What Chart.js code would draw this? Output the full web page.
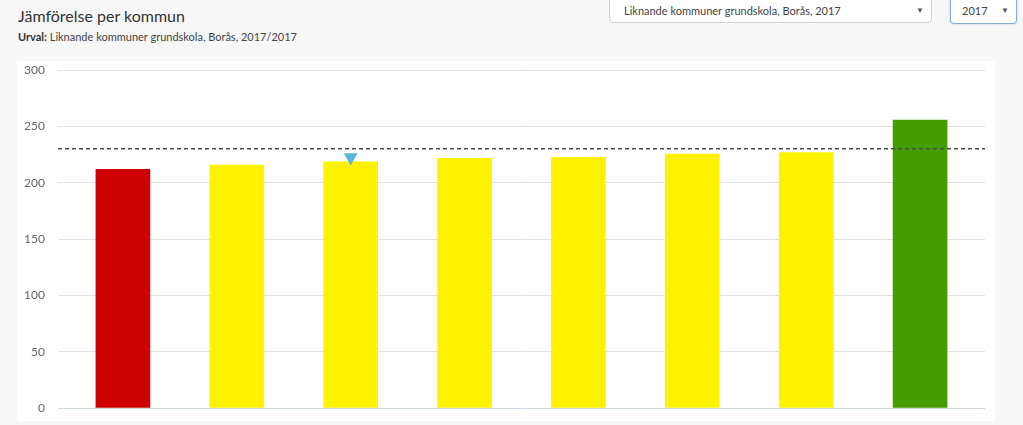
<!DOCTYPE html>
<html lang="sv">
<head>
<meta charset="utf-8">
<title>Jämförelse per kommun</title>
<script src="https://cdn.jsdelivr.net/npm/chart.js@4/dist/chart.umd.min.js"></script>
<style>
  html, body { margin: 0; padding: 0; }
  body {
    width: 1023px; height: 425px; overflow: hidden; position: relative;
    background: #f7f7f7; font-family: Lato, "Open Sans", sans-serif; color: #333;
  }
  #title { position: absolute; left: 18px; top: 6px; font-size: 16px; color: #333; }
  #subtitle { position: absolute; left: 18px; top: 30px; font-size: 11px; color: #444; }
  #subtitle b { color: #333; }
  .select {
    position: absolute; background: #fff; border: 1px solid #d3d3d3; border-radius: 4px;
    font-size: 11px; color: #444; box-sizing: border-box;
  }
  .select .txt { position: absolute; left: 14px; top: 9px; }
  .select .arr { position: absolute; right: 7px; top: 10px; font-size: 8px; color: #555; }
  #sel1 { left: 609px; top: -6px; width: 323px; height: 29px; }
  #sel2 { left: 950px; top: -6px; width: 67px; height: 30px; border-color: #86acd6; box-shadow: 0 0 2px rgba(100,150,210,0.5); }
  #sel2 .txt { left: 11px; }
  #panel { position: absolute; left: 17px; top: 61px; width: 978px; height: 360px; background: #fff; }
</style>
</head>
<body>
<div id="title">Jämförelse per kommun</div>
<div id="subtitle"><b>Urval:</b> Liknande kommuner grundskola, Borås, 2017/2017</div>
<div class="select" id="sel1"><span class="txt">Liknande kommuner grundskola, Borås, 2017</span><span class="arr">▼</span></div>
<div class="select" id="sel2"><span class="txt">2017</span><span class="arr">▼</span></div>
<div id="panel"><canvas id="chart"></canvas></div>

<script>
// kommuner (namnen syns inte i bilden), Borås är den markerade
var categories = ['Kommun 1', 'Kommun 2', 'Borås', 'Kommun 4', 'Kommun 5', 'Kommun 6', 'Kommun 7', 'Kommun 8'];
var values = [211.9, 215.7, 218.4, 221.6, 222.5, 225.4, 226.6, 255.6];
var barColors = ['#cc0000', '#fff200', '#fff200', '#fff200', '#fff200', '#fff200', '#fff200', '#459d00'];
var average = 230;
var markerIndex = 2;
var markerValue = 222.5;
var yTicks = [0, 50, 100, 150, 200, 250, 300];

// x-axeln är linjär så att staplarna hamnar som i originalet
var xMin = -0.57;
var xMax = categories.length - 1 + 0.57;

var barData = values.map(function(v, i) { return { x: i, y: v }; });
var avgData = [{ x: xMin, y: average }, { x: xMax, y: average }];
var markerData = [{ x: markerIndex, y: markerValue }];

var ctx = document.getElementById('chart').getContext('2d');
new Chart(ctx, {
  type: 'bar',
  data: {
    datasets: [
      {
        type: 'bar',
        label: 'Värde',
        data: barData,
        backgroundColor: barColors,
        borderWidth: 0,
        barThickness: 54,
        order: 3
      },
      {
        type: 'line',
        label: 'Medel',
        data: avgData,
        borderColor: '#4a4a4a',
        borderWidth: 1.5,
        borderDash: [4, 3],
        pointRadius: 0,
        fill: false,
        order: 1
      },
      {
        type: 'scatter',
        label: 'Vald kommun',
        data: markerData,
        pointStyle: 'triangle',
        rotation: 180,
        pointRadius: 8,
        backgroundColor: '#5ab4dc',
        borderWidth: 0,
        order: 0
      }
    ]
  },
  options: {
    responsive: true,
    maintainAspectRatio: false,
    animation: false,
    layout: { padding: { top: 9, right: 10, bottom: 13, left: 0 } },
    plugins: {
      legend: { display: false },
      tooltip: {
        callbacks: {
          title: function(items) { return categories[items[0].parsed.x] || ''; }
        }
      }
    },
    scales: {
      x: {
        type: 'linear',
        min: xMin,
        max: xMax,
        offset: false,
        display: false
      },
      y: {
        min: 0,
        max: 300,
        afterBuildTicks: function(scale) {
          scale.ticks = yTicks.map(function(v) { return { value: v }; });
        },
        afterFit: function(scale) { scale.width = 41; },
        border: { display: false },
        grid: {
          drawTicks: true,
          tickLength: 13,
          tickColor: 'rgba(0,0,0,0)',
          color: function(c) { return c.tick && c.tick.value === 0 ? '#ccd6eb' : '#e0e0e0'; },
          lineWidth: 1
        },
        ticks: {
          padding: 0,
          color: '#666',
          font: { family: 'Lato, "Open Sans", sans-serif', size: 12 }
        }
      }
    }
  }
});
</script>
</body>
</html>
